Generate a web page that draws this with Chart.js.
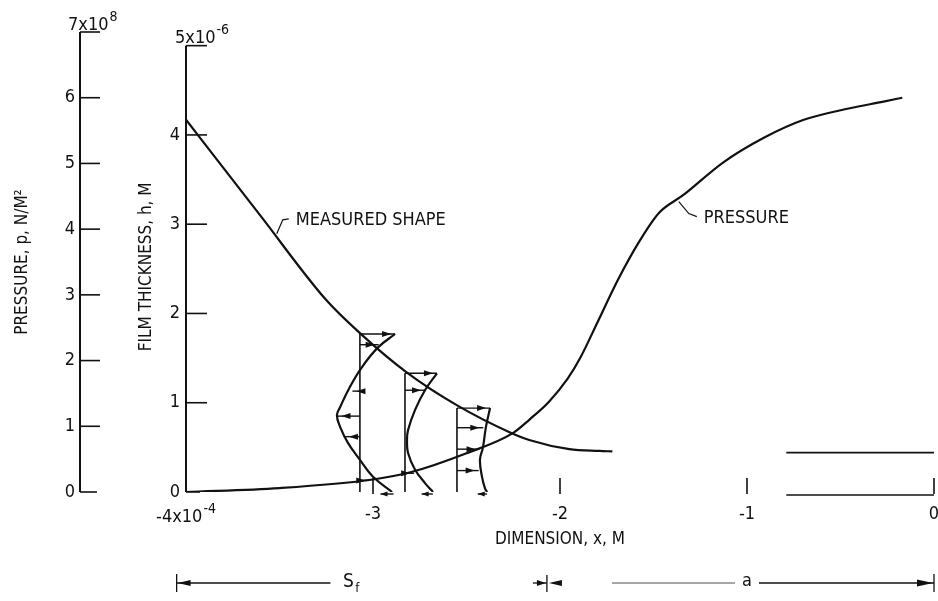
<!DOCTYPE html>
<html>
<head>
<meta charset="utf-8">
<script src="https://cdn.jsdelivr.net/npm/chart.js@4.4.1/dist/chart.umd.min.js"></script>
<style>
  html, body { margin: 0; padding: 0; background: #fff; }
</style>
</head>
<body>
<canvas id="chart" width="938" height="601"></canvas>
<script>
// units: x in 1e-4 M, film thickness h in 1e-6 M, pressure p in 1e8 N/M^2
const xTicks = [-4, -3, -2, -1, 0];
const hTicks = [0, 1, 2, 3, 4, 5];
const pTicks = [0, 1, 2, 3, 4, 5, 6, 7];

// measured film shape
const shapeX = [-4, -3.6, -3.25, -3.07, -2.82, -2.55, -2.27, -2.16, -1.95, -1.79, -1.72];
const shapeH = [4.17, 3.09, 2.15, 1.78, 1.34, 0.97, 0.67, 0.58, 0.48, 0.46, 0.455];
const shapeTailX = [-0.79, 0];
const shapeTailH = [0.44, 0.44];

// pressure
const pressX = [-4, -3.5, -3.0, -2.8, -2.5, -2.25, -2.16, -2.06, -1.96, -1.89, -1.80, -1.69, -1.57, -1.47, -1.34, -1.13, -0.91, -0.70, -0.45, -0.27, -0.17];
const pressP = [0, 0.06, 0.19, 0.30, 0.59, 0.90, 1.11, 1.37, 1.72, 2.05, 2.58, 3.23, 3.84, 4.25, 4.52, 5.01, 5.39, 5.66, 5.84, 5.94, 6.00];

// velocity profiles
const prof1Base = -3.07, prof1Top = 1.77;
const prof1X = [-2.882, -2.973, -3.059, -3.123, -3.176, -3.193, -3.176, -3.134, -3.070, -3.0, -2.898];
const prof1H = [1.77, 1.62, 1.40, 1.18, 0.95, 0.86, 0.73, 0.55, 0.36, 0.17, 0];
const prof1ArrowH = [1.77, 1.65, 1.13, 0.85, 0.62, 0.13];
const prof1ArrowTip = [-2.882, -2.97, -3.11, -3.19, -3.15, -3.02];

const prof2Base = -2.829, prof2Top = 1.33;
const prof2X = [-2.658, -2.722, -2.775, -2.813, -2.818, -2.813, -2.775, -2.722, -2.679];
const prof2H = [1.33, 1.14, 0.92, 0.69, 0.58, 0.44, 0.25, 0.10, 0];
const prof2ArrowH = [1.33, 1.14, 0.21];
const prof2ArrowTip = [-2.658, -2.722, -2.78];

const prof3Base = -2.551, prof3Top = 0.94;
const prof3X = [-2.374, -2.396, -2.412, -2.428, -2.417, -2.401, -2.39];
const prof3H = [0.94, 0.73, 0.50, 0.36, 0.17, 0.04, 0];
const prof3ArrowH = [0.94, 0.72, 0.48, 0.24];
const prof3ArrowTip = [-2.374, -2.41, -2.43, -2.435];

// little arrows at the surface (h = 0)
const surfFrom = [-2.89, -2.68, -2.39];
const surfTo = [-2.96, -2.74, -2.44];

// dimension lines under the axis
const sfRange = [-4.05, -2.07];
const aRange = [-2.07, 0];
const sfLabelAt = -3.11;
const aLabelAt = -1.0;

// where the curve labels hang
const shapeLabelAt = [-3.52, 2.87];
const pressLabelAt = [-1.37, 4.45];

const FONT = "'DejaVu Sans Condensed', 'Liberation Sans Narrow', 'DejaVu Sans', sans-serif";
const INK = '#111';
Chart.defaults.font.family = FONT;
Chart.defaults.color = INK;

function pts (xs, ys) {
    return xs.map((v, i) => ({ x: v, y: ys[i] }))
}

function curve (xs, ys, axis, extra) {
    return Object.assign({
        data: pts(xs, ys),
        yAxisID: axis,
        showLine: true,
        pointRadius: 0,
        borderColor: INK,
        borderWidth: 2.2,
        fill: false
    }, extra)
}

function head (ctx, tx, ty, dir, len, half) {
    ctx.beginPath()
    ctx.moveTo(tx, ty)
    ctx.lineTo(tx - dir * len, ty - half)
    ctx.lineTo(tx - dir * len, ty + half)
    ctx.closePath()
    ctx.fill()
}

function seg (ctx, x1, y1, x2, y2) {
    ctx.beginPath()
    ctx.moveTo(x1, y1)
    ctx.lineTo(x2, y2)
    ctx.stroke()
}

function supText (ctx, base, sup, x, y, size) {
    ctx.textAlign = 'left'
    ctx.textBaseline = 'alphabetic'
    ctx.font = size + 'px ' + FONT
    ctx.fillText(base, x, y)
    const w = ctx.measureText(base).width
    ctx.font = Math.round(size * 0.8) + 'px ' + FONT
    ctx.fillText(sup, x + w + 1, y - size * 0.5)
    return w + 1 + ctx.measureText(sup).width
}

// no extra label padding, the axes sit where the figure puts them
function noPad (s) {
    s.paddingLeft = 0
    s.paddingRight = 0
    s.paddingTop = 0
    s.paddingBottom = 0
}

const extras = {
    id: 'extras',
    afterDatasetsDraw (chart) {
        const { ctx, scales } = chart
        const { x, h, p } = scales
        ctx.save()
        ctx.strokeStyle = INK
        ctx.fillStyle = INK
        ctx.lineCap = 'butt'

        // axis lines and inward ticks
        const px = p.right, hx = h.right
        ctx.lineWidth = 2
        seg(ctx, px, p.getPixelForValue(0), px, p.getPixelForValue(7))
        seg(ctx, hx, h.getPixelForValue(0), hx, h.getPixelForValue(5))
        ctx.lineWidth = 1.6
        pTicks.forEach(v => seg(ctx, px, p.getPixelForValue(v), px + (v === 0 ? 17 : 20), p.getPixelForValue(v)))
        hTicks.forEach(v => seg(ctx, hx, h.getPixelForValue(v), hx + (v === 0 ? 14 : 21), h.getPixelForValue(v)))
        const y0 = h.getPixelForValue(0)
        xTicks.slice(1).forEach(v => seg(ctx, x.getPixelForValue(v), y0 + 2, x.getPixelForValue(v), y0 - 14))
        seg(ctx, x.getPixelForValue(shapeTailX[0]), y0 + 3, x.getPixelForValue(0), y0 + 3)

        // exponent labels
        ctx.fillStyle = INK
        supText(ctx, '7x10', '8', px - 12, p.getPixelForValue(7) - 2, 18)
        supText(ctx, '5x10', '-6', hx - 11, h.getPixelForValue(5) - 3, 18)
        ctx.font = '18px ' + FONT
        const w4 = ctx.measureText('-4x10').width + 1
        ctx.font = '14px ' + FONT
        const ws = ctx.measureText('-4').width
        supText(ctx, '-4x10', '-4', x.getPixelForValue(-4) - (w4 + ws) / 2, y0 + 30, 18)

        // velocity profile arrows
        const profiles = [
            [prof1Base, prof1ArrowH, prof1ArrowTip],
            [prof2Base, prof2ArrowH, prof2ArrowTip],
            [prof3Base, prof3ArrowH, prof3ArrowTip]
        ]
        ctx.lineWidth = 1.4
        profiles.forEach(([base, hs, tips]) => {
            const bx = x.getPixelForValue(base)
            hs.forEach((hv, i) => {
                const yy = h.getPixelForValue(hv)
                const tx = x.getPixelForValue(tips[i])
                const dir = tx > bx ? 1 : -1
                seg(ctx, bx, yy, tx, yy)
                head(ctx, tx - dir * 4, yy, dir, 9, 3)
            })
        })
        surfFrom.forEach((f, i) => {
            const a = x.getPixelForValue(f), b = x.getPixelForValue(surfTo[i])
            seg(ctx, a, y0 + 2, b, y0 + 2)
            head(ctx, b, y0 + 2, -1, 7, 2.5)
        })

        // curve labels with leaders
        ctx.lineWidth = 1.2
        ctx.font = '18px ' + FONT
        ctx.textAlign = 'left'
        ctx.textBaseline = 'middle'
        let ax = x.getPixelForValue(shapeLabelAt[0]), ay = h.getPixelForValue(shapeLabelAt[1])
        ctx.beginPath()
        ctx.moveTo(ax + 1, ay - 2)
        ctx.lineTo(ax + 7, ay - 16)
        ctx.lineTo(ax + 13, ay - 17)
        ctx.stroke()
        ctx.fillText('MEASURED SHAPE', ax + 20, ay - 15)
        ax = x.getPixelForValue(pressLabelAt[0])
        ay = p.getPixelForValue(pressLabelAt[1])
        ctx.beginPath()
        ctx.moveTo(ax + 1, ay + 2)
        ctx.lineTo(ax + 11, ay + 14)
        ctx.lineTo(ax + 19, ay + 17)
        ctx.stroke()
        ctx.fillText('PRESSURE', ax + 26, ay + 19)

        // dimension lines S_f and a
        const yd = chart.chartArea.bottom + 91
        const s0 = x.getPixelForValue(sfRange[0]), s1 = x.getPixelForValue(sfRange[1])
        const a1 = x.getPixelForValue(aRange[1])
        const sl = x.getPixelForValue(sfLabelAt), al = x.getPixelForValue(aLabelAt)
        ctx.lineWidth = 1.3
        seg(ctx, s0, yd - 9, s0, yd + 9)
        seg(ctx, s1, yd - 8, s1, yd + 9)
        seg(ctx, a1, yd - 9, a1, yd + 9)
        seg(ctx, s0, yd, sl - 22, yd)
        head(ctx, s0 + 1, yd, -1, 13, 3)
        seg(ctx, s1 - 14, yd, s1, yd)
        head(ctx, s1 - 1, yd, 1, 9, 3)
        head(ctx, s1 + 2, yd, -1, 13, 3)
        ctx.strokeStyle = '#888'
        seg(ctx, s1 + 65, yd, al - 12, yd)
        ctx.strokeStyle = INK
        seg(ctx, al + 12, yd, a1, yd)
        head(ctx, a1 - 1, yd, 1, 16, 3.5)
        ctx.font = '19px ' + FONT
        ctx.textAlign = 'center'
        ctx.textBaseline = 'middle'
        ctx.fillText('S', sl - 4, yd - 1)
        ctx.font = '13px ' + FONT
        ctx.fillText('f', sl + 5, yd + 6)
        ctx.font = '18px ' + FONT
        ctx.fillText('a', al, yd - 2)
        ctx.restore()
    }
}

new Chart(document.getElementById('chart'), {
    type: 'scatter',
    data: {
        datasets: [
            curve(shapeX, shapeH, 'h', { cubicInterpolationMode: 'monotone' }),
            curve(shapeTailX, shapeTailH, 'h', { borderWidth: 1.8 }),
            curve(pressX, pressP, 'p', { cubicInterpolationMode: 'monotone' }),
            curve(prof1X, prof1H, 'h', { tension: 0.4 }),
            curve(prof2X, prof2H, 'h', { tension: 0.4 }),
            curve(prof3X, prof3H, 'h', { tension: 0.4 }),
            curve([prof1Base, prof1Base], [0, prof1Top], 'h', { borderWidth: 1.6 }),
            curve([prof2Base, prof2Base], [0, prof2Top], 'h', { borderWidth: 1.6 }),
            curve([prof3Base, prof3Base], [0, prof3Top], 'h', { borderWidth: 1.6 })
        ]
    },
    options: {
        responsive: false,
        animation: false,
        layout: { padding: { left: 0, right: 4, top: 32, bottom: 39 } },
        plugins: {
            legend: { display: false },
            tooltip: { enabled: false }
        },
        scales: {
            x: {
                type: 'linear',
                min: -4,
                max: 0,
                afterBuildTicks: (s) => { s.ticks = xTicks.map(v => ({ value: v })) },
                afterFit: (s) => { s.height = 70; noPad(s) },
                grid: { display: false, drawTicks: false },
                border: { display: false },
                ticks: {
                    padding: 12,
                    maxRotation: 0,
                    font: { size: 18 },
                    callback: (v) => v === -4 ? '' : String(v)
                },
                title: {
                    display: true,
                    text: 'DIMENSION, x, M',
                    font: { size: 17 },
                    padding: { top: 0, bottom: 12 }
                }
            },
            h: {
                type: 'linear',
                position: 'left',
                weight: 0,
                min: 0,
                max: 5.153,
                afterBuildTicks: (s) => { s.ticks = hTicks.map(v => ({ value: v })) },
                afterFit: (s) => { s.width = 106; noPad(s) },
                grid: { display: false, drawTicks: false },
                border: { display: false },
                ticks: {
                    padding: 6,
                    font: { size: 18 },
                    callback: (v) => v === 5 ? '' : String(v)
                },
                title: {
                    display: true,
                    text: 'FILM THICKNESS, h, M  ',
                    font: { size: 17 },
                    padding: { top: 56, bottom: 0 }
                }
            },
            p: {
                type: 'linear',
                position: 'left',
                weight: 10,
                min: 0,
                max: 7,
                afterBuildTicks: (s) => { s.ticks = pTicks.map(v => ({ value: v })) },
                afterFit: (s) => { s.width = 80; noPad(s) },
                grid: { display: false, drawTicks: false },
                border: { display: false },
                ticks: {
                    padding: 5,
                    font: { size: 18 },
                    callback: (v) => v === 7 ? '' : String(v)
                },
                title: {
                    display: true,
                    text: 'PRESSURE, p, N/M\u00B2',
                    font: { size: 17 },
                    padding: { top: 12, bottom: 0 }
                }
            }
        }
    },
    plugins: [extras]
})
</script>
</body>
</html>
